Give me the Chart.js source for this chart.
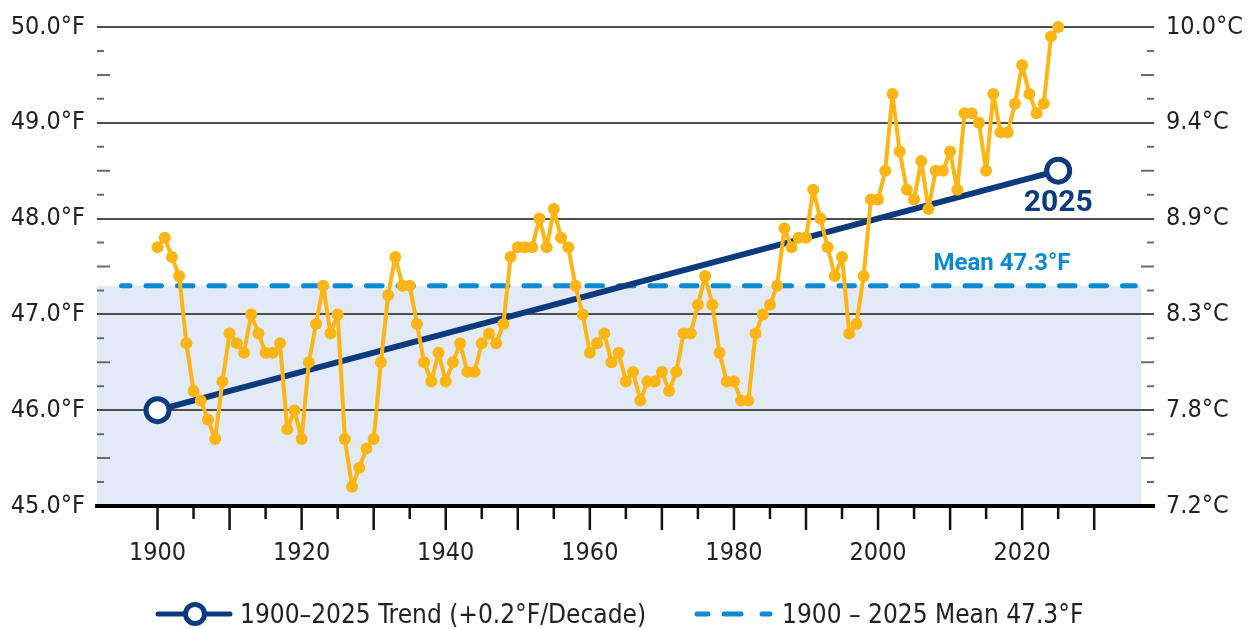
<!DOCTYPE html>
<html>
<head>
<meta charset="utf-8">
<script src="https://cdn.jsdelivr.net/npm/chart.js@4.4.1/dist/chart.umd.min.js"></script>
<style>
  html, body { margin: 0; padding: 0; background: #fff; }
  #wrap { position: relative; width: 1248px; height: 629px; }
  #legend { position: absolute; left: 0; top: 598px; width: 1248px; height: 31px; }
  #legend .item { position: absolute; top: 0; height: 31px; display: flex; align-items: center; }
  #legend span { font-family: 'DejaVu Sans Condensed', 'DejaVu Sans', sans-serif; font-stretch: condensed; font-size: 26px; color: #222; margin-left: 7px; white-space: nowrap; }
</style>
</head>
<body>
<div id="wrap">
  <canvas id="tempChart"></canvas>
  <div id="legend">
    <div class="item" style="left:155px">
      <svg width="78" height="31"><line x1="3" y1="16" x2="75" y2="16" stroke="#0b3b7c" stroke-width="5" stroke-linecap="round"/><circle cx="40" cy="16" r="9.5" fill="#fff" stroke="#0b3b7c" stroke-width="5"/></svg>
      <span>1900–2025 Trend (+0.2°F/Decade)</span>
    </div>
    <div class="item" style="left:693px">
      <svg width="82" height="31"><g stroke="#0a8ad0" stroke-width="5" stroke-linecap="round"><line x1="4" y1="16" x2="15" y2="16"/><line x1="31" y1="16" x2="48" y2="16"/><line x1="69" y1="16" x2="77" y2="16"/></g></svg>
      <span>1900 – 2025 Mean 47.3°F</span>
    </div>
  </div>
</div>
<script>
// Annual average temperature, °F, 1900 - 2025
var firstYear = 1900;
var annualTemps = [
  47.7, 47.8, 47.6, 47.4, 46.7, 46.2, 46.1, 45.9, 45.7, 46.3,
  46.8, 46.7, 46.6, 47.0, 46.8, 46.6, 46.6, 46.7, 45.8, 46.0,
  45.7, 46.5, 46.9, 47.3, 46.8, 47.0, 45.7, 45.2, 45.4, 45.6,
  45.7, 46.5, 47.2, 47.6, 47.3, 47.3, 46.9, 46.5, 46.3, 46.6,
  46.3, 46.5, 46.7, 46.4, 46.4, 46.7, 46.8, 46.7, 46.9, 47.6,
  47.7, 47.7, 47.7, 48.0, 47.7, 48.1, 47.8, 47.7, 47.3, 47.0,
  46.6, 46.7, 46.8, 46.5, 46.6, 46.3, 46.4, 46.1, 46.3, 46.3,
  46.4, 46.2, 46.4, 46.8, 46.8, 47.1, 47.4, 47.1, 46.6, 46.3,
  46.3, 46.1, 46.1, 46.8, 47.0, 47.1, 47.3, 47.9, 47.7, 47.8,
  47.8, 48.3, 48.0, 47.7, 47.4, 47.6, 46.8, 46.9, 47.4, 48.2,
  48.2, 48.5, 49.3, 48.7, 48.3, 48.2, 48.6, 48.1, 48.5, 48.5,
  48.7, 48.3, 49.1, 49.1, 49.0, 48.5, 49.3, 48.9, 48.9, 49.2,
  49.6, 49.3, 49.1, 49.2, 49.9, 50.0
];
var years = annualTemps.map(function(t, i) { return firstYear + i; });

var trendYears = [1900, 2025];
var trendTemps = [46.0, 48.5];

var meanTemp = 47.3;
var meanLineYears = [1895, 2035.7];
var meanFillEnd = 2036.5;

var xTicks = [1900, 1920, 1940, 1960, 1980, 2000, 2020];
var yTicks = [45, 46, 47, 48, 49, 50];
var fLabels = ['45.0°F', '46.0°F', '47.0°F', '48.0°F', '49.0°F', '50.0°F'];
var cLabels = ['7.2°C', '7.8°C', '8.3°C', '8.9°C', '9.4°C', '10.0°C'];

var xMin = 1891.6, xMax = 2038.3;
var yMin = 45, yMax = 50;

var NARROW = "'DejaVu Sans Condensed', 'DejaVu Sans', sans-serif";
var ORANGE = '#fdb515';
var NAVY = '#0b3b7c';
var BLUE = '#0a8ad0';

// small tick marks on the axes and the two annotations
var axisMarks = {
  id: 'axisMarks',
  beforeDatasetsDraw: function(chart) {
    var ctx = chart.ctx, area = chart.chartArea;
    var x = chart.scales.x, y = chart.scales.y;
    ctx.save();
    ctx.lineWidth = 2;
    ctx.strokeStyle = '#6b6b6b';
    for (var v = yMin + 0.25; v < yMax; v += 0.25) {
      if (Math.abs(v - Math.round(v)) < 0.01) continue;
      var len = Math.abs((v % 1) - 0.5) < 0.01 ? 13 : 7;
      var py = y.getPixelForValue(v);
      ctx.beginPath();
      ctx.moveTo(area.left, py); ctx.lineTo(area.left + len, py);
      ctx.moveTo(area.right, py); ctx.lineTo(area.right - len, py);
      ctx.stroke();
    }
    ctx.strokeStyle = '#111';
    ctx.lineWidth = 2.5;
    for (var yr = 1900; yr <= 2030; yr += 5) {
      var px = x.getPixelForValue(yr);
      var tl = yr % 10 === 0 ? 22 : 11;
      ctx.beginPath();
      ctx.moveTo(px, area.bottom + 2);
      ctx.lineTo(px, area.bottom + 2 + tl);
      ctx.stroke();
    }
    ctx.restore();
  },
  afterDatasetsDraw: function(chart) {
    var ctx = chart.ctx;
    var x = chart.scales.x, y = chart.scales.y;
    ctx.save();
    ctx.textAlign = 'center';
    ctx.textBaseline = 'middle';
    ctx.fillStyle = NAVY;
    ctx.font = 'bold 30px Roboto, sans-serif';
    ctx.fillText(String(trendYears[1]), x.getPixelForValue(trendYears[1]), y.getPixelForValue(trendTemps[1]) + 33);
    ctx.fillStyle = BLUE;
    ctx.font = 'bold 24px Roboto, sans-serif';
    ctx.fillText('Mean ' + meanTemp.toFixed(1) + '°F', x.getPixelForValue(2017.2), y.getPixelForValue(meanTemp) - 22);
    ctx.restore();
  }
};

var ctx = document.getElementById('tempChart').getContext('2d');
var tempChart = new Chart(ctx, {
  type: 'line',
  data: {
    datasets: [
      {
        label: 'Annual',
        data: years.map(function(yr, i) { return { x: yr, y: annualTemps[i] }; }),
        borderColor: ORANGE,
        backgroundColor: ORANGE,
        borderWidth: 4,
        borderJoinStyle: 'round',
        pointRadius: 6,
        pointBorderWidth: 0,
        pointBackgroundColor: ORANGE,
        tension: 0,
        clip: false,
        order: 0
      },
      {
        label: 'Trend',
        data: trendYears.map(function(yr, i) { return { x: yr, y: trendTemps[i] }; }),
        borderColor: NAVY,
        borderWidth: 6,
        pointRadius: 11.5,
        pointBorderWidth: 5,
        pointBorderColor: NAVY,
        pointBackgroundColor: '#fff',
        clip: false,
        order: 1
      },
      {
        label: 'Mean',
        data: meanLineYears.map(function(yr) { return { x: yr, y: meanTemp }; }),
        borderColor: BLUE,
        borderWidth: 5,
        borderDash: [15.5, 16],
        borderDashOffset: 7,
        borderCapStyle: 'round',
        pointRadius: 0,
        order: 2
      },
      {
        label: 'Below mean',
        data: [{ x: xMin, y: meanTemp }, { x: meanFillEnd, y: meanTemp }],
        borderWidth: 0,
        pointRadius: 0,
        backgroundColor: '#e1eaf6',
        fill: 'start',
        order: 3
      }
    ]
  },
  options: {
    responsive: true,
    maintainAspectRatio: false,
    animation: false,
    layout: { padding: { top: 26, left: 0, right: 0, bottom: 0 } },
    plugins: {
      legend: { display: false },
      tooltip: { enabled: false },
      filler: { drawTime: 'beforeDraw' }
    },
    scales: {
      x: {
        type: 'linear',
        min: xMin,
        max: xMax,
        afterBuildTicks: function(scale) {
          scale.ticks = xTicks.map(function(v) { return { value: v }; });
        },
        afterFit: function(scale) { scale.height = 123; },
        grid: { display: false, drawTicks: false },
        border: { display: true, color: '#000', width: 4 },
        ticks: {
          padding: 32,
          maxRotation: 0,
          autoSkip: false,
          color: '#222',
          font: { family: NARROW, size: 25 },
          callback: function(value) { return String(value); }
        }
      },
      y: {
        position: 'left',
        min: yMin,
        max: yMax,
        afterBuildTicks: function(scale) {
          scale.ticks = yTicks.map(function(v) { return { value: v }; });
        },
        afterFit: function(scale) { scale.width = 97; },
        grid: {
          drawTicks: false,
          lineWidth: 2,
          color: function(c) { return c.tick && c.tick.value === yMin ? 'rgba(0,0,0,0)' : '#4d4d4d'; }
        },
        border: { display: false },
        ticks: {
          padding: 12,
          color: '#222',
          font: { family: NARROW, size: 25 },
          callback: function(value, index) { return fLabels[index]; }
        }
      },
      y2: {
        position: 'right',
        min: yMin,
        max: yMax,
        afterBuildTicks: function(scale) {
          scale.ticks = yTicks.map(function(v) { return { value: v }; });
        },
        afterFit: function(scale) { scale.width = 94; },
        grid: { display: false, drawTicks: false },
        border: { display: false },
        ticks: {
          padding: 12,
          color: '#222',
          font: { family: NARROW, size: 25 },
          callback: function(value, index) { return cLabels[index]; }
        }
      }
    }
  },
  plugins: [axisMarks]
});
</script>
</body>
</html>
